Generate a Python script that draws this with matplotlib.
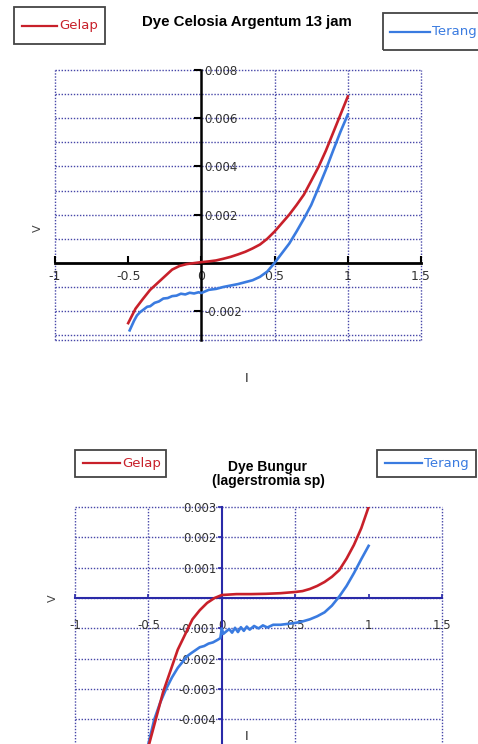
import matplotlib
matplotlib.use("Agg")
import matplotlib.pyplot as plt
from matplotlib.patches import Rectangle
from matplotlib.lines import Line2D

# figure size in pixels
W, H = 478, 744

# --- top chart: Dye Celosia Argentum 13 jam ---
top_title = "Dye Celosia Argentum 13 jam"
top_gelap_v = [-0.5, -0.45, -0.4, -0.35, -0.3, -0.25, -0.2, -0.15, -0.1, -0.05, 0.0,
               0.05, 0.1, 0.15, 0.2, 0.25, 0.3, 0.35, 0.4, 0.45, 0.5, 0.55, 0.6,
               0.65, 0.7, 0.75, 0.8, 0.85, 0.9, 0.95, 1.0]
top_gelap_i = [-0.0025, -0.0019, -0.0015, -0.00112, -0.00084, -0.00056, -0.00028,
               -0.00013, -0.00005, -0.00001, 0.00003, 0.00006, 0.0001, 0.00017,
               0.00025, 0.00035, 0.00046, 0.0006, 0.00076, 0.001, 0.0013, 0.00165,
               0.002, 0.0024, 0.00283, 0.0034, 0.00398, 0.00465, 0.0054, 0.00615, 0.0069]
top_terang_v = [-0.49, -0.46, -0.44, -0.42, -0.40, -0.37, -0.35, -0.32, -0.29, -0.26,
                -0.23, -0.2, -0.17, -0.14, -0.11, -0.08, -0.05, -0.02, 0.0, 0.05, 0.1,
                0.15, 0.2, 0.25, 0.3, 0.35, 0.4, 0.45, 0.5, 0.55, 0.6, 0.65, 0.7,
                0.75, 0.8, 0.85, 0.9, 0.95, 1.0]
top_terang_i = [-0.0028, -0.0024, -0.00218, -0.00205, -0.00196, -0.00182, -0.0018,
                -0.00166, -0.0016, -0.00148, -0.00146, -0.00138, -0.00136, -0.00128,
                -0.00131, -0.00124, -0.00127, -0.00122, -0.00125, -0.00112, -0.00108,
                -0.001, -0.00094, -0.00088, -0.0008, -0.00072, -0.00058, -0.00036, 0.0,
                0.0004, 0.0008, 0.0013, 0.00183, 0.0024, 0.00312, 0.00386, 0.00466,
                0.00544, 0.00615]
top_xticks = [-1, -0.5, 0, 0.5, 1, 1.5]
top_xlabels = ["-1", "-0.5", "0", "0.5", "1", "1.5"]
top_yticks = [-0.002, 0.002, 0.004, 0.006, 0.008]
top_ylabels = ["-0.002", "0.002", "0.004", "0.006", "0.008"]

# --- bottom chart: Dye Bungur ---
bot_title = "Dye Bungur\n(lagerstromia sp)"
bot_gelap_v = [-0.52, -0.5, -0.45, -0.4, -0.35, -0.3, -0.25, -0.2, -0.15, -0.1, -0.05,
               0.0, 0.1, 0.2, 0.3, 0.4, 0.5, 0.55, 0.6, 0.65, 0.7, 0.75, 0.8, 0.85,
               0.9, 0.95, 1.0]
bot_gelap_i = [-0.0053, -0.0049, -0.004, -0.0031, -0.0024, -0.0017, -0.0012, -0.0007,
               -0.0004, -0.00016, 0.0, 0.0001, 0.00013, 0.00013, 0.00014, 0.00016,
               0.0002, 0.00023, 0.0003, 0.0004, 0.00053, 0.0007, 0.00092, 0.0013,
               0.00175, 0.0023, 0.003]
bot_terang_v = [-0.52, -0.5, -0.46, -0.42, -0.38, -0.34, -0.3, -0.27, -0.24, -0.21,
                -0.18, -0.15, -0.12, -0.09, -0.06, -0.03, -0.01, 0.0, 0.01, 0.03, 0.05,
                0.07, 0.09, 0.11, 0.13, 0.15, 0.17, 0.19, 0.22, 0.25, 0.28, 0.31, 0.35,
                0.4, 0.45, 0.5, 0.55, 0.6, 0.65, 0.7, 0.75, 0.8, 0.85, 0.9, 0.95, 1.0]
bot_terang_i = [-0.0052, -0.0048, -0.004, -0.00345, -0.003, -0.00262, -0.0023, -0.00212,
                -0.00193, -0.00182, -0.00172, -0.00162, -0.00158, -0.0015, -0.00146,
                -0.00138, -0.00132, -0.001, -0.00118, -0.0011, -0.00102, -0.00114,
                -0.00098, -0.00112, -0.00096, -0.00108, -0.00094, -0.00104, -0.00092,
                -0.001, -0.0009, -0.00097, -0.00088, -0.00088, -0.00085, -0.00082,
                -0.00077, -0.0007, -0.0006, -0.00047, -0.00025, 0.00005, 0.0004,
                0.00082, 0.00128, 0.00172]
bot_xticks = [-1, -0.5, 0, 0.5, 1, 1.5]
bot_xlabels = ["-1", "-0.5", "0", "0.5", "1", "1.5"]
bot_yticks = [0.003, 0.002, 0.001, -0.001, -0.002, -0.003, -0.004]
bot_ylabels = ["0.003", "0.002", "0.001", "-0.001", "-0.002", "-0.003", "-0.004"]

RED = "#c8202a"
BLUE = "#3a7be0"
GRID = "#4646a8"
TICKFONT = ["Liberation Sans Narrow", "DejaVu Sans"]


def fx(px):
    return px / W


def fy(py):
    return 1 - py / H


def axes_box(left, top, right, bottom):
    """Axes rect from pixel edges (bottom may lie below the figure)."""
    return [fx(left), fy(bottom), (right - left) / W, (bottom - top) / H]


def dotted_grid(ax, xs, ys):
    for x in xs:
        ax.axvline(x, color=GRID, ls=(0, (1, 1.2)), lw=1.0, zorder=1, clip_on=False)
    for y in ys:
        ax.axhline(y, color=GRID, ls=(0, (1, 1.2)), lw=1.0, zorder=1, clip_on=False)


def legend_box(fig, x0, y0, x1, y1, lx0, lx1, label, color):
    fig.add_artist(Rectangle((fx(x0), fy(y1)), (x1 - x0) / W, (y1 - y0) / H,
                             transform=fig.transFigure, fill=False,
                             edgecolor="#444444", lw=1.3))
    ymid = (y0 + y1) / 2
    fig.add_artist(Line2D([fx(lx0), fx(lx1)], [fy(ymid), fy(ymid)],
                          transform=fig.transFigure, color=color, lw=1.6))
    fig.text(fx(lx1 + 2), fy(ymid), label, color=color, fontsize=9.5,
             family=TICKFONT, va="center", ha="left")


fig = plt.figure(figsize=(W / 100, H / 100), dpi=100)
fig.patch.set_facecolor("white")

# ---------------- top chart ----------------
ax1 = fig.add_axes(axes_box(55, 70, 421, 340))
ax1.plot(top_gelap_v, top_gelap_i, color=RED, lw=1.9, zorder=4)
ax1.plot(top_terang_v, top_terang_i, color=BLUE, lw=1.9, zorder=3)
ax1.set_xlim(-1, 1.5)
ax1.set_ylim(-0.0032, 0.008)
dotted_grid(ax1, [-1, 0.5, 1.0, 1.5],
            [-0.0032, -0.003, -0.002, -0.001, 0.001, 0.002, 0.003, 0.004,
             0.005, 0.006, 0.007, 0.008])
for s in ["left", "top"]:
    ax1.spines[s].set_visible(False)
ax1.spines["bottom"].set_position(("data", 0))
ax1.spines["right"].set_position(("data", 0))
ax1.spines["bottom"].set_linewidth(2)
ax1.spines["right"].set_linewidth(1.8)
ax1.spines["bottom"].set_zorder(2)
ax1.yaxis.set_ticks_position("right")
ax1.set_xticks(top_xticks)
ax1.set_xticklabels(top_xlabels)
ax1.set_yticks(top_yticks)
ax1.set_yticklabels(top_ylabels)
ax1.tick_params(axis="x", direction="in", length=5, width=1.5, pad=5,
                labelsize=9, labelcolor="#333333")
ax1.tick_params(axis="y", direction="in", length=5, width=1.5, pad=2,
                labelsize=8.5, labelcolor="#333333")
for lab in ax1.get_xticklabels() + ax1.get_yticklabels():
    lab.set_family(TICKFONT)
ax1.set_facecolor("none")

fig.text(fx(247), fy(22), top_title, ha="center", va="center", fontsize=10.8,
         fontweight="bold", family=["Liberation Sans", "DejaVu Sans"])
fig.text(fx(38), fy(228), "V", rotation=90, ha="center", va="center",
         fontsize=8, color="#444444")
fig.text(fx(247), fy(379), "I", ha="center", va="center", fontsize=9,
         color="#222222")
legend_box(fig, 14, 7, 105, 44, 22, 57, "Gelap", RED)
legend_box(fig, 383, 13, 492, 50, 390, 430, "Terang", BLUE)

# ---------------- bottom chart ----------------
ax2 = fig.add_axes(axes_box(75, 507, 442, 765))
ax2.plot(bot_gelap_v, bot_gelap_i, color=RED, lw=1.9, zorder=4)
ax2.plot(bot_terang_v, bot_terang_i, color=BLUE, lw=1.9, zorder=3)
ax2.set_xlim(-1, 1.5)
ax2.set_ylim(-0.0055, 0.003)
dotted_grid(ax2, [-1, -0.5, 0.5, 1.5],
            [0.003, 0.002, 0.001, 0.0, -0.001, -0.002, -0.003, -0.004, -0.005])
for s in ["right", "top"]:
    ax2.spines[s].set_visible(False)
ax2.spines["bottom"].set_position(("data", 0))
ax2.spines["left"].set_position(("data", 0))
for s in ["bottom", "left"]:
    ax2.spines[s].set_color("#2a2aa8")
    ax2.spines[s].set_linewidth(1.5)
    ax2.spines[s].set_zorder(2)
ax2.set_xticks(bot_xticks)
ax2.set_xticklabels(bot_xlabels)
ax2.set_yticks(bot_yticks)
ax2.set_yticklabels(bot_ylabels)
ax2.tick_params(axis="x", direction="in", length=3, width=1.2, color="#2a2aa8",
                pad=15, labelsize=8.5, labelcolor="#333333")
ax2.tick_params(axis="y", direction="out", length=3, width=1.2, color="#2a2aa8",
                pad=1, labelsize=8.5, labelcolor="#333333")
for lab in ax2.get_xticklabels() + ax2.get_yticklabels():
    lab.set_family(TICKFONT)
ax2.set_facecolor("none")

fig.text(fx(268), fy(474), bot_title, ha="center", va="center", fontsize=10,
         fontweight="bold", family=["Liberation Sans", "DejaVu Sans"],
         linespacing=1.0)
fig.text(fx(53), fy(598), "V", rotation=90, ha="center", va="center",
         fontsize=8, color="#444444")
fig.text(fx(247), fy(736), "I", ha="center", va="center", fontsize=9,
         color="#222222")
legend_box(fig, 75, 450, 166, 477, 83, 120, "Gelap", RED)
legend_box(fig, 377, 450, 476, 477, 385, 422, "Terang", BLUE)

fig.savefig("out.png", dpi=100, facecolor="white")
